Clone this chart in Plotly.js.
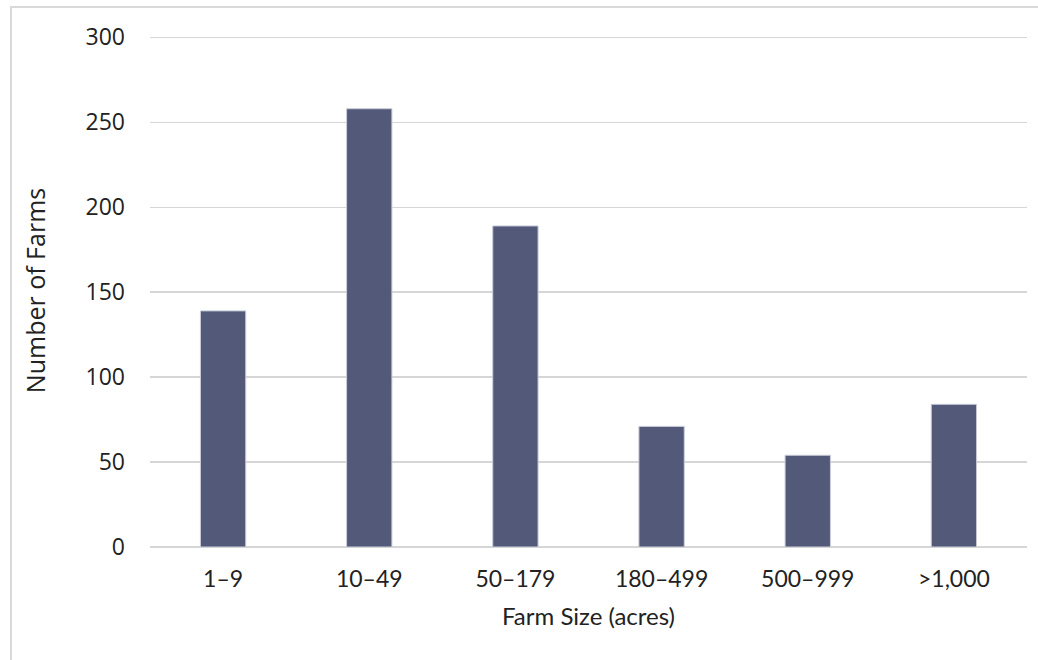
<!DOCTYPE html>
<html>
<head>
<meta charset="utf-8">
<script src="https://cdn.plot.ly/plotly-3.0.1.min.js"></script>
<style>
  html, body { margin: 0; padding: 0; background: #fff; }
  #wrap { position: relative; width: 1038px; height: 660px; }
  #chart { width: 1038px; height: 660px; }
  #frame { position: absolute; left: 10px; top: 6px; right: 0; bottom: 0;
           border-top: 2px solid #d9d9d9; border-left: 2px solid #d9d9d9; pointer-events: none; }
</style>
</head>
<body>
<div id="wrap">
  <div id="chart"></div>
  <div id="frame"></div>
</div>
<script>
const categories = ["1\u20139", "10\u201349", "50\u2013179", "180\u2013499", "500\u2013999", ">1,000"];
const farmCounts = [139, 258, 189, 71, 54, 84];
const yTicks = [0, 50, 100, 150, 200, 250, 300];

const trace = {
  type: 'bar',
  x: categories,
  y: farmCounts,
  marker: { color: '#535a79', line: { color: '#c9ccd8', width: 1 } },
  hoverinfo: 'x+y'
};

const layout = {
  width: 1038, height: 660,
  margin: { l: 150, r: 11, t: 34, b: 113 },
  paper_bgcolor: '#ffffff', plot_bgcolor: '#ffffff',
  bargap: 0.69,
  showlegend: false,
  xaxis: {
    type: 'category',
    showgrid: false, zeroline: false,
    showline: false,
    ticks: '',
    tickfont: { family: 'Lato, sans-serif', size: 23, color: '#222' },
    title: { text: 'Farm Size (acres)', font: { family: 'Lato, sans-serif', size: 24, color: '#222' }, standoff: 17 },
    ticklabelstandoff: 16
  },
  yaxis: {
    range: [0, 302],
    tickvals: yTicks,
    ticktext: yTicks.map(String),
    showgrid: true, gridcolor: '#d6d6d6', gridwidth: 1.5,
    zeroline: true, zerolinecolor: '#d6d6d6', zerolinewidth: 1.5,
    showline: false, ticks: '',
    ticklabelstandoff: 24,
    tickfont: { family: 'Open Sans, sans-serif', size: 23, color: '#222' },
    title: { text: 'Number of Farms', font: { family: 'Open Sans, sans-serif', size: 25, color: '#222' }, standoff: 32 }
  }
};

Plotly.newPlot('chart', [trace], layout, { displayModeBar: false, staticPlot: true });
</script>
</body>
</html>
